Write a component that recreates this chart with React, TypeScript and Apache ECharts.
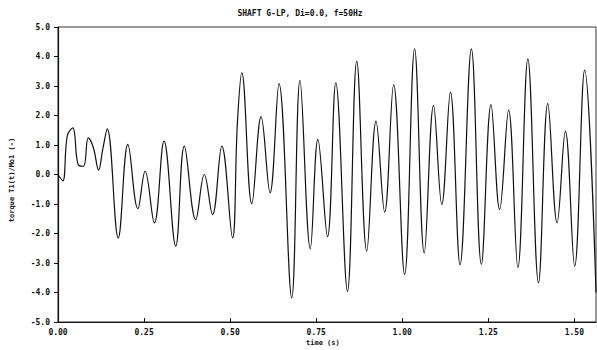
import React, { useEffect, useRef } from "react";
import * as echarts from "echarts";

const titleText = "SHAFT G-LP, Di=0.0, f=50Hz";
const yAxisLabel = "torque T1(t)/Mo1 (-)";
const xAxisLabel = "time (s)";

// time (s) at extrema / shoulders
const times = [
  0.0, 0.014, 0.027, 0.043, 0.059, 0.074, 0.088, 0.103, 0.118, 0.13, 0.143,
  0.175, 0.203, 0.232, 0.253, 0.28, 0.308, 0.342, 0.367, 0.4, 0.425, 0.449,
  0.476, 0.507, 0.521, 0.534, 0.563, 0.59, 0.616, 0.642, 0.679, 0.703, 0.733,
  0.755, 0.783, 0.807, 0.841, 0.868, 0.897, 0.924, 0.949, 0.975, 1.007, 1.036,
  1.064, 1.091, 1.115, 1.14, 1.168, 1.201, 1.23, 1.258, 1.283, 1.309, 1.336,
  1.365, 1.396, 1.423, 1.45, 1.474, 1.501, 1.53, 1.563,
];
// torque T1(t)/Mo1 at those times
const torque = [
  0.0, -0.22, 1.32, 1.58, 0.32, 0.28, 1.24, 0.9, 0.15, 0.85, 1.55,
  -2.15, 1.02, -1.16, 0.11, -1.64, 1.13, -2.43, 0.96, -1.53, 0.0, -1.36,
  0.96, -2.15, 1.7, 3.45, -0.99, 1.96, -0.62, 3.08, -4.18, 3.19, -2.52,
  1.19, -2.11, 3.11, -3.96, 3.84, -2.6, 1.81, -1.28, 3.05, -3.39, 4.26,
  -2.66, 2.34, -1.02, 2.79, -3.06, 4.26, -3.05, 2.37, -1.19, 2.18, -3.16,
  3.92, -3.67, 2.41, -1.64, 1.47, -3.11, 3.54, -4.0,
];

const xMin = 0;
const xMax = 1.563;
const xInterval = 0.25;
const yMin = -5;
const yMax = 5;
const yInterval = 1;

export default function App() {
  const ref = useRef<HTMLDivElement>(null);
  useEffect(() => {
    document.body.style.margin = "0";
    if (!ref.current) return;
    const chart = echarts.init(ref.current, null, { renderer: "svg" });
    const font = "'DejaVu Sans Mono', monospace";
    chart.setOption({
      animation: false,
      backgroundColor: "#ffffff",
      grid: {
        left: 58,
        right: 1,
        top: 27,
        bottom: 28,
        show: true,
        borderColor: "#333",
        borderWidth: 1,
      },
      xAxis: {
        type: "value",
        min: xMin,
        max: xMax,
        interval: xInterval,
        axisLine: { onZero: false, lineStyle: { color: "#111", width: 1 } },
        axisTick: { inside: true, length: 4, lineStyle: { color: "#111" } },
        axisLabel: {
          showMaxLabel: false,
          color: "#111",
          fontFamily: font,
          fontWeight: "bold",
          fontSize: 8,
          margin: 6,
          formatter: (v: number) => v.toFixed(2),
        },
        splitLine: { show: false },
      },
      yAxis: {
        type: "value",
        min: yMin,
        max: yMax,
        interval: yInterval,
        axisLine: { show: true, onZero: false, lineStyle: { color: "#111", width: 1.2 } },
        axisTick: { show: true, inside: false, length: 4, lineStyle: { color: "#111" } },
        axisLabel: {
          color: "#111",
          fontFamily: font,
          fontWeight: "bold",
          fontSize: 8,
          margin: 8,
          formatter: (v: number) => v.toFixed(1),
        },
        splitLine: { show: false },
      },
      graphic: [
        {
          type: "text",
          x: 300,
          y: 13,
          style: {
            text: titleText,
            fill: "#111",
            font: "bold 8px 'DejaVu Sans Mono', monospace",
            align: "center",
            verticalAlign: "middle",
          },
        },
        {
          type: "text",
          x: 306,
          y: 343,
          style: {
            text: xAxisLabel,
            fill: "#111",
            font: "bold 7px 'DejaVu Sans Mono', monospace",
            align: "left",
            verticalAlign: "middle",
          },
        },
        {
          type: "text",
          x: 12,
          y: 180,
          rotation: Math.PI / 2,
          style: {
            text: yAxisLabel,
            fill: "#111",
            font: "bold 7px 'DejaVu Sans Mono', monospace",
            align: "center",
            verticalAlign: "middle",
          },
        },
      ],
      series: [
        {
          type: "line",
          data: times.map((t, i) => [t, torque[i]]),
          showSymbol: false,
          smooth: 0.4,
          lineStyle: { color: "#111", width: 1.2 },
        },
      ],
    });
    return () => chart.dispose();
  }, []);
  return <div ref={ref} style={{ width: 597, height: 350 }} />;
}
